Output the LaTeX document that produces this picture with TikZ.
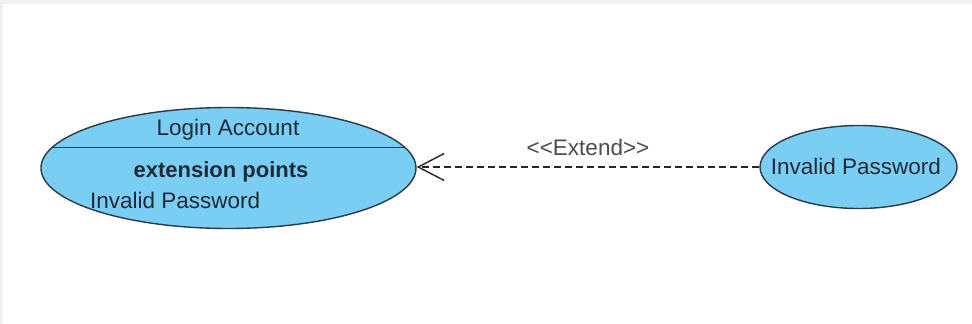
\documentclass[tikz,border=0pt]{standalone}
\usepackage{fontspec}
\setmainfont{Liberation Sans}
\usetikzlibrary{shapes.geometric,arrows.meta}
\definecolor{ucfill}{HTML}{7ACDF3}
\definecolor{ucline}{HTML}{2B3A47}
\definecolor{uctext}{HTML}{1E2A36}
\definecolor{bggray}{HTML}{F1F1F1}
\tikzset{
  usecase/.style={ellipse, draw=ucline, fill=ucfill, line width=1.4pt, inner sep=0pt},
  uclabel/.style={text=uctext, anchor=base, inner sep=0pt, font=\fontsize{22.5}{26}\selectfont},
  extendline/.style={draw=black!85, line width=1.5pt, dash pattern=on 7pt off 4pt,
    -{Straight Barb[length=26pt, width=27pt, line width=1.4pt]}},
}
\begin{document}
\begin{tikzpicture}[x=1pt,y=-1pt]
\useasboundingbox (0,0) rectangle (972,324);
\fill[bggray] (0,0) rectangle (972,324);
\fill[white] (3,4) rectangle (972,324);

\node[usecase, minimum width=375pt, minimum height=121pt] (L) at (228.5,168) {};
\node[usecase, minimum width=197pt, minimum height=83pt] (R) at (858.5,167) {};

\coordinate (divl) at (52.7,147.5);
\coordinate (divr) at (404.3,147.5);
\draw[draw=ucline, line width=1.4pt] (divl) -- (divr);

\node[uclabel] (title) at (228,135) {Login Account};
\node[uclabel, font=\fontsize{22}{26}\selectfont\bfseries] (ext) at (221,177) {extension points};
\node[uclabel, anchor=base west] (extpt) at (90,208) {Invalid Password};
\node[uclabel] (rtext) at (856,174) {Invalid Password};

\coordinate (tip) at (L.east |- R.west);
\draw[extendline] (R.west) -- (tip) node[midway, above=11pt, text=black!70, font=\fontsize{22.5}{26}\selectfont, inner sep=0pt] (lbl) {<\kern0pt<\kern0ptExtend\kern0pt>\kern0pt>};
\end{tikzpicture}
\end{document}
